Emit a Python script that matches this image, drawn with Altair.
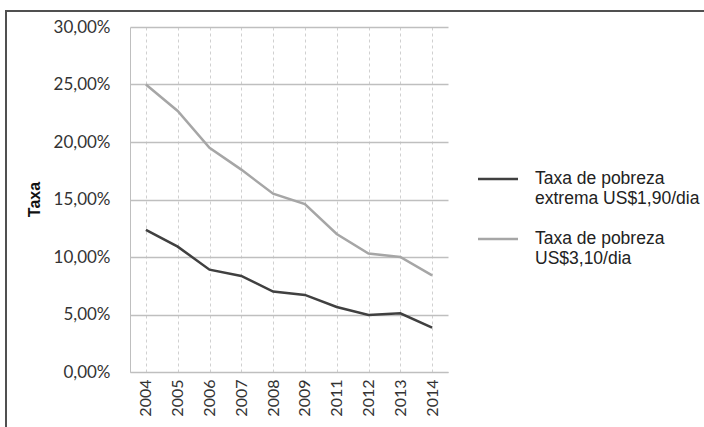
import altair as alt
import pandas as pd

years = ["2004", "2005", "2006", "2007", "2008", "2009", "2011", "2012", "2013", "2014"]
extrema = [0.1235, 0.109, 0.089, 0.0835, 0.070, 0.067, 0.0565, 0.0495, 0.051, 0.0385]
pobreza = [0.250, 0.227, 0.195, 0.176, 0.155, 0.146, 0.120, 0.103, 0.100, 0.084]
series_names = ["Taxa de pobreza\nextrema US$1,90/dia", "Taxa de pobreza\nUS$3,10/dia"]
series_colors = ["#404040", "#a6a6a6"]
y_ticks = [0, 0.05, 0.10, 0.15, 0.20, 0.25, 0.30]

rows = []
for s, vals in zip(series_names, [extrema, pobreza]):
    for y, v in zip(years, vals):
        rows.append({"Ano": y, "Taxa": v, "Serie": s})
df = pd.DataFrame(rows)

FONT = "Lato"

lines = alt.Chart(df).mark_line(strokeWidth=2.5).encode(
    x=alt.X("Ano:O", sort=years, title=None,
            scale=alt.Scale(type="point", padding=0.5),
            axis=alt.Axis(labelAngle=270, labelFont=FONT, labelFontSize=16, labelColor="#333333",
                          labelPadding=7, ticks=False, domain=True, domainColor="#bfbfbf",
                          grid=True, gridDash=[3, 3], gridColor="#d0d0d0", gridWidth=1,
                          labelAlign="right", labelBaseline="middle")),
    y=alt.Y("Taxa:Q", title="Taxa",
            scale=alt.Scale(domain=[0, 0.30], nice=False),
            axis=alt.Axis(values=y_ticks, labelExpr="replace(format(datum.value, '.2%'), '.', ',')",
                          labelFont=FONT, labelFontSize=17, labelColor="#333333", labelPadding=20,
                          ticks=False, domainColor="#bfbfbf", gridColor="#bfbfbf", gridWidth=1.5,
                          titleFont="Liberation Sans", titleFontSize=16, titleFontWeight="bold",
                          titleColor="#111111", titleAngle=270, titleX=-96, titleY=172,
                          titleAlign="center", titleBaseline="middle")),
    color=alt.Color("Serie:N", scale=alt.Scale(domain=series_names, range=series_colors), legend=None),
)

leg_df = pd.DataFrame({"Serie": series_names, "ly": [152, 212]})
leg_rules = alt.Chart(leg_df).mark_rule(strokeWidth=2.5).encode(
    x=alt.value(348), x2=alt.value(388), y=alt.Y("ly:Q", scale=None),
    color=alt.Color("Serie:N", scale=alt.Scale(domain=series_names, range=series_colors), legend=None),
)
leg_text = alt.Chart(leg_df).mark_text(
    align="left", baseline="middle", lineBreak="\n", lineHeight=20,
    font="Liberation Sans", fontSize=17.5, color="#222222"
).encode(x=alt.value(405), y=alt.Y("ly:Q", scale=None), text="Serie:N")

frame_top = alt.Chart(pd.DataFrame({"k": [0]})).mark_rule(color="#505050", strokeWidth=2).encode(
    x=alt.value(-124), x2=alt.value(580), y=alt.value(-16))
frame_left = alt.Chart(pd.DataFrame({"k": [0]})).mark_rule(color="#505050", strokeWidth=2).encode(
    x=alt.value(-124), y=alt.value(-17), y2=alt.value(410))

chart = alt.layer(lines, leg_rules, leg_text, frame_top, frame_left).properties(
    width=318, height=345,
    autosize=alt.AutoSizeParams(type="none"),
    padding={"left": 130, "top": 27, "right": 256, "bottom": 55},
    background="white",
).configure_view(stroke=None)

chart.save("out.html", embed_options={"renderer": "svg", "actions": False})
